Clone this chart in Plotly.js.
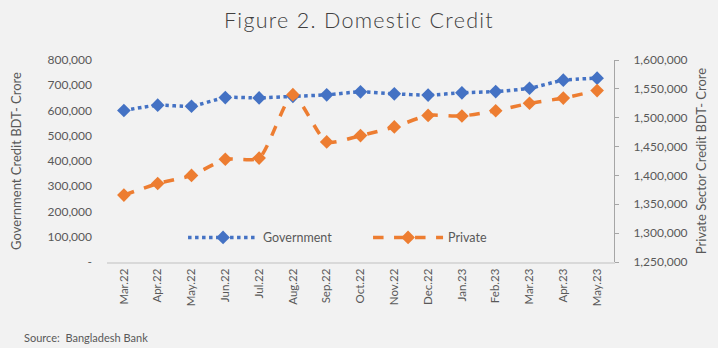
<!DOCTYPE html>
<html><head><meta charset="utf-8">
<script src="https://cdn.plot.ly/plotly-3.0.1.min.js"></script>
<style>body{margin:0;background:#f2f2f2}#c{width:718px;height:348px}.gtitle{letter-spacing:1.3px}</style>
</head><body><div id="c"></div>
<script>
const months = ["Mar.22","Apr.22","May.22","Jun.22","Jul.22","Aug.22","Sep.22","Oct.22","Nov.22","Dec.22","Jan.23","Feb.23","Mar.23","Apr.23","May.23"];
const government = [600000,621000,617000,651000,650000,656000,662000,674000,666000,661000,670000,675000,688000,720000,728000];
const privateSector = [1366000,1386000,1400000,1428000,1430000,1540000,1458000,1469000,1484000,1504000,1503000,1512000,1525000,1534000,1547000];
const leftTicks = [0,100000,200000,300000,400000,500000,600000,700000,800000];
const leftTickText = ["-","100,000","200,000","300,000","400,000","500,000","600,000","700,000","800,000"];
const rightTicks = [1250000,1300000,1350000,1400000,1450000,1500000,1550000,1600000];
const rightTickText = ["1,250,000","1,300,000","1,350,000","1,400,000","1,450,000","1,500,000","1,550,000","1,600,000"];

const font = "Lato, 'Open Sans', sans-serif";
const traces = [
  {x: months, y: government, name: "Government", type: "scatter", mode: "lines+markers",
   line: {color: "#4472C4", width: 3.5, dash: "dot", shape: "spline", smoothing: 0.6},
   marker: {symbol: "diamond", size: 10.5, color: "#4472C4"}, yaxis: "y"},
  {x: months, y: privateSector, name: "Private", type: "scatter", mode: "lines+markers",
   line: {color: "#ED7D31", width: 3.5, dash: "dash", shape: "spline", smoothing: 0.6},
   marker: {symbol: "diamond", size: 10.5, color: "#ED7D31"}, yaxis: "y2"}
];
const layout = {
  width: 718, height: 348,
  paper_bgcolor: "#f2f2f2", plot_bgcolor: "#f2f2f2",
  margin: {l: 107, r: 104, t: 60, b: 86},
  font: {family: font, color: "#595959", size: 12},
  title: {text: "Figure 2. Domestic Credit", x: 0.5, xanchor: "center", y: 0.94, yanchor: "middle",
          font: {family: font, size: 21.5, weight: 300, color: "#404040"}},
  showlegend: true,
  legend: {orientation: "h", x: 0.15, y: 0.12, xanchor: "left", yanchor: "middle",
           bgcolor: "rgba(0,0,0,0)", itemwidth: 70, entrywidth: 100, entrywidthmode: "pixels",
           font: {size: 12.5, color: "#595959"}},
  xaxis: {type: "category", range: [-0.5, 14.5], tickangle: -90, showgrid: false, showline: true, linecolor: "#d9d9d9", linewidth: 2,
          ticks: "", tickfont: {size: 11.5}, zeroline: false, automargin: false},
  yaxis: {range: [0, 800000], tickvals: leftTicks, ticktext: leftTickText, showgrid: false, zeroline: false,
          showline: false, ticks: "", ticklabelstandoff: 14, automargin: false,
          title: {text: "Government Credit BDT- Crore", font: {size: 13, color: "#595959"}, standoff: 22}},
  yaxis2: {range: [1250000, 1600000], tickvals: rightTicks, ticktext: rightTickText, overlaying: "y", side: "right",
           showgrid: false, zeroline: false, showline: true, linecolor: "#a6a6a6", linewidth: 1,
           ticks: "outside", ticklen: 4, tickcolor: "#a6a6a6", ticklabelstandoff: 12, automargin: false,
           title: {text: "Private Sector Credit BDT- Crore", font: {size: 13, color: "#595959"}, standoff: 10}},
  annotations: [{text: "Source:  Bangladesh Bank", xref: "paper", yref: "paper", x: -0.168, y: -0.376,
                 xanchor: "left", yanchor: "middle", showarrow: false, font: {size: 11, color: "#595959"}}]
};
Plotly.newPlot("c", traces, layout, {displayModeBar: false});
</script></body></html>
